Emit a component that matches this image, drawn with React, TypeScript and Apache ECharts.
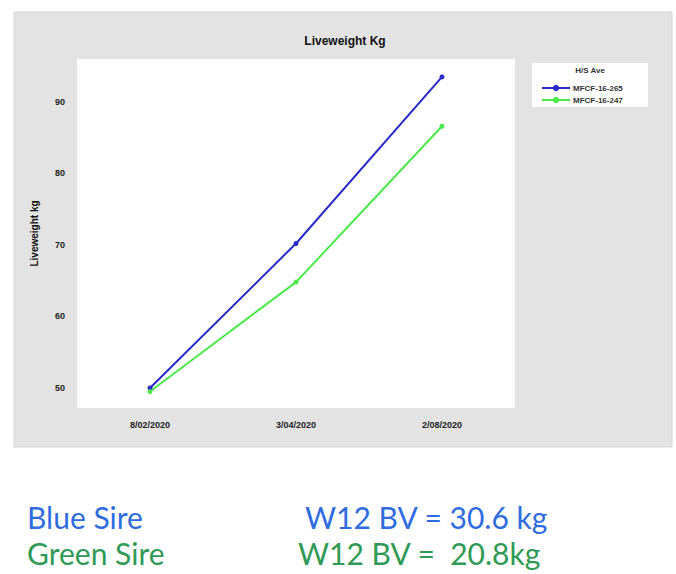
import React, { useEffect, useRef } from "react";
import * as echarts from "echarts";

const categories = ["8/02/2020", "3/04/2020", "2/08/2020"];
const blueName = "MFCF-16-265";
const greenName = "MFCF-16-247";
const blueValues = [50.0, 70.2, 93.5];
const greenValues = [49.5, 64.8, 86.6];
const yTicks = [50, 60, 70, 80, 90];
const legendTitle = "H/S Ave";
const chartTitle = "Liveweight Kg";
const yAxisName = "Liveweight kg";

export default function App() {
  const ref = useRef<HTMLDivElement>(null);
  useEffect(() => {
    document.body.style.margin = "0";
    const chart = echarts.init(ref.current!, null, { renderer: "svg" });
    const axisFont = {
      fontFamily: "Liberation Sans, Arial, sans-serif",
      fontWeight: "bold" as const,
      fontSize: 9,
      color: "#222",
    };
    const bigFont = "30px Lato, sans-serif";
    chart.setOption({
      animation: false,
      backgroundColor: "#ffffff",
      graphic: [
        {
          type: "rect",
          z: -10,
          shape: { x: 14, y: 12, width: 658, height: 435 },
          style: { fill: "#e3e3e3", stroke: "#d6d6d6", lineWidth: 1 },
        },
        {
          type: "rect",
          z: -5,
          shape: { x: 532, y: 63, width: 116, height: 44 },
          style: { fill: "#ffffff" },
        },
        {
          type: "text",
          x: 590,
          y: 66,
          style: {
            text: legendTitle,
            fill: "#333",
            font: "bold 8px Liberation Sans, Arial, sans-serif",
            align: "center",
          },
        },
        {
          type: "text",
          x: 27,
          y: 502,
          style: { text: "Blue Sire", fill: "#2f6ce0", font: bigFont },
        },
        {
          type: "text",
          x: 305,
          y: 502,
          style: { text: "W12 BV = 30.6 kg", fill: "#2f6ce0", font: bigFont },
        },
        {
          type: "text",
          x: 27,
          y: 538,
          style: { text: "Green Sire", fill: "#2f9a55", font: bigFont },
        },
        {
          type: "text",
          x: 298,
          y: 538,
          style: { text: "W12 BV =  20.8kg", fill: "#2f9a55", font: bigFont },
        },
      ],
      title: {
        text: chartTitle,
        left: 340,
        textAlign: "center",
        top: 30,
        textStyle: {
          fontFamily: "Liberation Sans, Arial, sans-serif",
          fontWeight: "bold",
          fontSize: 12,
          color: "#111",
        },
      },
      legend: {
        orient: "vertical",
        left: 536,
        top: 79,
        itemWidth: 28,
        itemHeight: 8,
        itemGap: 4,
        data: [blueName, greenName],
        textStyle: {
          fontFamily: "Liberation Sans, Arial, sans-serif",
          fontWeight: "bold",
          fontSize: 8,
          color: "#333",
          padding: [0, 0, 0, -2],
        },
      },
      grid: {
        left: 77,
        top: 59,
        width: 438,
        height: 349,
        show: true,
        backgroundColor: "#ffffff",
        borderWidth: 0,
      },
      xAxis: {
        type: "category",
        data: categories,
        boundaryGap: true,
        axisLine: { show: false },
        axisTick: { show: false },
        splitLine: { show: false },
        axisLabel: { ...axisFont, margin: 12 },
      },
      yAxis: {
        type: "value",
        min: 47.2,
        max: 96,
        name: yAxisName,
        nameLocation: "middle",
        nameRotate: 90,
        nameGap: 38,
        nameTextStyle: {
          fontFamily: "Liberation Sans, Arial, sans-serif",
          fontWeight: "bold",
          fontSize: 10,
          color: "#111",
        },
        axisLine: { show: false },
        axisTick: { show: false },
        splitLine: { show: false },
        axisLabel: { ...axisFont, margin: 12, customValues: yTicks },
      },
      series: [
        {
          name: blueName,
          type: "line",
          data: blueValues,
          color: "#2a2ac8",
          symbol: "circle",
          symbolSize: 5,
          lineStyle: { width: 2, color: "#2a2ac8" },
          itemStyle: { color: "#2a2ac8" },
        },
        {
          name: greenName,
          type: "line",
          data: greenValues,
          color: "#4be84b",
          symbol: "circle",
          symbolSize: 5,
          lineStyle: { width: 2, color: "#4be84b" },
          itemStyle: { color: "#4be84b" },
        },
      ],
    });
    return () => chart.dispose();
  }, []);
  return <div ref={ref} style={{ width: 676, height: 574 }} />;
}
